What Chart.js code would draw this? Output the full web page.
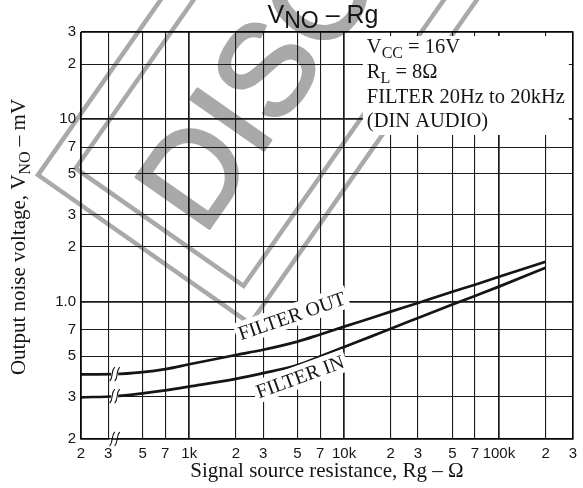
<!DOCTYPE html>
<html>
<head>
<meta charset="utf-8">
<script src="https://cdn.jsdelivr.net/npm/chart.js@4"></script>
<style>
  html, body { margin: 0; padding: 0; background: #fff; }
  #wrap { width: 583px; height: 488px; position: relative; }
</style>
</head>
<body>
<div id="wrap"><canvas id="chart"></canvas></div>
<script>
"use strict";

// signal source resistance, ohm
const rgValues = [200, 330, 500, 700, 1000, 2000, 3000, 5000, 7000, 10000, 15000, 20000, 30000, 50000, 70000, 100000, 200000];
// output noise voltage, mV
const filterOut = [0.398, 0.399, 0.409, 0.425, 0.452, 0.508, 0.543, 0.602, 0.659, 0.727, 0.811, 0.879, 0.981, 1.13, 1.235, 1.364, 1.65];
const filterIn = [0.298, 0.302, 0.313, 0.325, 0.341, 0.376, 0.404, 0.448, 0.499, 0.563, 0.643, 0.709, 0.81, 0.961, 1.072, 1.205, 1.53];

const xTickValues = [200, 300, 500, 700, 1000, 2000, 3000, 5000, 7000, 10000, 20000, 30000, 50000, 70000, 100000, 200000, 300000];
const xTickLabels = ["2", "3", "5", "7", "1k", "2", "3", "5", "7", "10k", "2", "3", "5", "7", "100k", "2", "3"];
// bottom edge of the paper sits a little below 0.2 (axis is broken there)
const yAxisMin = 0.176;
const yAxisMax = 30;
const yTickValues = [yAxisMin, 0.3, 0.5, 0.7, 1, 2, 3, 5, 7, 10, 20, 30];
const yTickLabels = ["2", "3", "5", "7", "1.0", "2", "3", "5", "7", "10", "2", "3"];
const decades = [1000, 10000, 100000, 1, 10];

const SANS = '"Liberation Sans", Arial, sans-serif';
const SERIF = '"Liberation Serif", "Times New Roman", serif';
const INK = "#151515";

function runsWidth(ctx, runs) {
  let w = 0;
  for (const r of runs) { ctx.font = r.font; w += ctx.measureText(r.text).width; }
  return w;
}

function drawRuns(ctx, runs, x, y) {
  let cx = x;
  for (const r of runs) {
    ctx.font = r.font;
    ctx.fillText(r.text, cx, y + (r.dy || 0));
    cx += ctx.measureText(r.text).width;
  }
}

function drawStamp(ctx) {
  ctx.save();
  ctx.translate(38, 175);
  ctx.rotate(-55 * Math.PI / 180);
  ctx.strokeStyle = "#a9a9a9";
  ctx.fillStyle = "#a9a9a9";
  ctx.lineWidth = 4.5;
  ctx.strokeRect(0, 0, 900, 259);
  ctx.strokeRect(27, 27, 846, 205);
  ctx.font = "130px " + SANS;
  ctx.lineWidth = 3;
  ctx.lineJoin = "round";
  ctx.fillText("DISCONTINUED", 44, 124 + 0.36 * 130);
  ctx.strokeText("DISCONTINUED", 44, 124 + 0.36 * 130);
  ctx.restore();
}

function drawBreak(ctx, x, y, h, gap) {
  ctx.save();
  ctx.fillStyle = "#fff";
  ctx.fillRect(x - 3.5, y - gap / 2, 7, gap);
  ctx.strokeStyle = INK;
  ctx.lineWidth = 1.1;
  for (const dx of [-2.5, 2.5]) {
    ctx.beginPath();
    ctx.moveTo(x + dx - 2.5, y + h / 2);
    ctx.bezierCurveTo(x + dx + 1.5, y + h / 5, x + dx - 1.5, y - h / 5, x + dx + 2.5, y - h / 2);
    ctx.stroke();
  }
  ctx.restore();
}

function drawCurveLabel(ctx, text, x, y, deg) {
  ctx.save();
  ctx.translate(x, y);
  ctx.rotate(deg * Math.PI / 180);
  ctx.font = "20px " + SERIF;
  const w = ctx.measureText(text).width;
  ctx.fillStyle = "#fff";
  ctx.fillRect(-w / 2 - 3, -12, w + 6, 23);
  ctx.fillStyle = INK;
  ctx.textAlign = "center";
  ctx.textBaseline = "middle";
  ctx.fillText(text, 0, 1);
  ctx.restore();
}

const decor = {
  id: "decor",
  beforeDraw(chart) {
    drawStamp(chart.ctx);
  },
  beforeDatasetsDraw(chart) {
    const ctx = chart.ctx;
    const a = chart.chartArea;
    // condition box, upper right
    ctx.save();
    ctx.fillStyle = "#fff";
    ctx.fillRect(a.right - 210, a.top + 4, 206, 99);
    ctx.fillStyle = INK;
    ctx.textBaseline = "alphabetic";
    const big = "20.5px " + SERIF, small = "16px " + SERIF;
    const x0 = a.right - 206;
    drawRuns(ctx, [{ text: "V", font: big }, { text: "CC", font: small, dy: 5 }, { text: " = 16V", font: big }], x0, a.top + 21);
    drawRuns(ctx, [{ text: "R", font: big }, { text: "L", font: small, dy: 5 }, { text: " = 8Ω", font: big }], x0, a.top + 46);
    drawRuns(ctx, [{ text: "FILTER 20Hz to 20kHz", font: big }], x0, a.top + 71);
    drawRuns(ctx, [{ text: "(DIN AUDIO)", font: big }], x0, a.top + 95);
    ctx.restore();
  },
  afterDatasetsDraw(chart) {
    const ctx = chart.ctx;
    const xs = chart.scales.x, ys = chart.scales.y;
    const a = chart.chartArea;
    const bx = xs.getPixelForValue(rgValues[1]);
    drawBreak(ctx, bx, ys.getPixelForValue(filterOut[1]), 14, 6);
    drawBreak(ctx, bx, ys.getPixelForValue(filterIn[1]), 14, 6);
    drawBreak(ctx, bx, a.bottom, 14, 4);
    drawCurveLabel(ctx, "FILTER OUT", xs.getPixelForValue(4600), ys.getPixelForValue(0.83), -19);
    drawCurveLabel(ctx, "FILTER IN", xs.getPixelForValue(5200), ys.getPixelForValue(0.385), -20);
    ctx.save();
    ctx.strokeStyle = "#000";
    ctx.lineWidth = 1.5;
    ctx.beginPath();
    ctx.moveTo(a.left, a.top);
    ctx.lineTo(a.right, a.top);
    ctx.lineTo(a.right, a.bottom);
    ctx.lineTo(bx - 4, a.bottom);
    ctx.moveTo(bx - 5, a.bottom);
    ctx.lineTo(a.left, a.bottom);
    ctx.lineTo(a.left, a.top);
    ctx.stroke();
    ctx.restore();
  },
  afterDraw(chart) {
    const ctx = chart.ctx;
    const a = chart.chartArea;
    ctx.save();
    ctx.fillStyle = INK;
    ctx.textBaseline = "alphabetic";
    // chart title
    const tRuns = [
      { text: "V", font: "25px " + SANS },
      { text: "NO", font: "23px " + SANS, dy: 5 },
      { text: " – Rg", font: "25px " + SANS },
    ];
    drawRuns(ctx, tRuns, 323 - runsWidth(ctx, tRuns) / 2, 23);
    // x axis title
    const xRuns = [{ text: "Signal source resistance, Rg – Ω", font: "21px " + SERIF }];
    drawRuns(ctx, xRuns, (a.left + a.right) / 2 - runsWidth(ctx, xRuns) / 2, 477);
    // y axis title
    const yRuns = [
      { text: "Output noise voltage, V", font: "21px " + SERIF },
      { text: "NO", font: "16px " + SERIF, dy: 5 },
      { text: " – mV", font: "21px " + SERIF },
    ];
    ctx.translate(25, 237);
    ctx.rotate(-Math.PI / 2);
    drawRuns(ctx, yRuns, -runsWidth(ctx, yRuns) / 2, 0);
    ctx.restore();
  },
};

const gridWidth = c => (c.tick && decades.includes(c.tick.value) ? 1.7 : 1.1);

new Chart(document.getElementById("chart"), {
  type: "line",
  data: {
    datasets: [
      {
        label: "FILTER OUT",
        data: rgValues.map((x, i) => ({ x, y: filterOut[i] })),
        borderColor: INK,
        borderWidth: 2.7,
        pointRadius: 0,
        cubicInterpolationMode: "monotone",
        fill: false,
      },
      {
        label: "FILTER IN",
        data: rgValues.map((x, i) => ({ x, y: filterIn[i] })),
        borderColor: INK,
        borderWidth: 2.7,
        pointRadius: 0,
        cubicInterpolationMode: "monotone",
        fill: false,
      },
    ],
  },
  options: {
    responsive: true,
    maintainAspectRatio: false,
    animation: false,
    devicePixelRatio: 1,
    layout: { padding: { top: 32, right: 10, left: 0, bottom: 0 } },
    plugins: { legend: { display: false }, tooltip: { enabled: false } },
    scales: {
      x: {
        type: "logarithmic",
        min: 200,
        max: 300000,
        afterBuildTicks: s => { s.ticks = xTickValues.map(v => ({ value: v })); },
        afterFit: s => { s.height = 49; },
        ticks: {
          autoSkip: false,
          maxRotation: 0,
          padding: 6,
          color: INK,
          font: { family: SANS, size: 15 },
          callback: (v, i) => xTickLabels[i],
        },
        grid: { color: "#1a1a1a", lineWidth: gridWidth, drawTicks: false },
        border: { display: false },
      },
      y: {
        type: "logarithmic",
        min: yAxisMin,
        max: yAxisMax,
        afterBuildTicks: s => { s.ticks = yTickValues.map(v => ({ value: v })); },
        afterFit: s => { s.width = 81; },
        ticks: {
          autoSkip: false,
          padding: 5,
          color: INK,
          font: { family: SANS, size: 15 },
          callback: (v, i) => yTickLabels[i],
        },
        grid: { color: "#1a1a1a", lineWidth: gridWidth, drawTicks: false },
        border: { display: false },
      },
    },
  },
  plugins: [decor],
});
</script>
</body>
</html>
